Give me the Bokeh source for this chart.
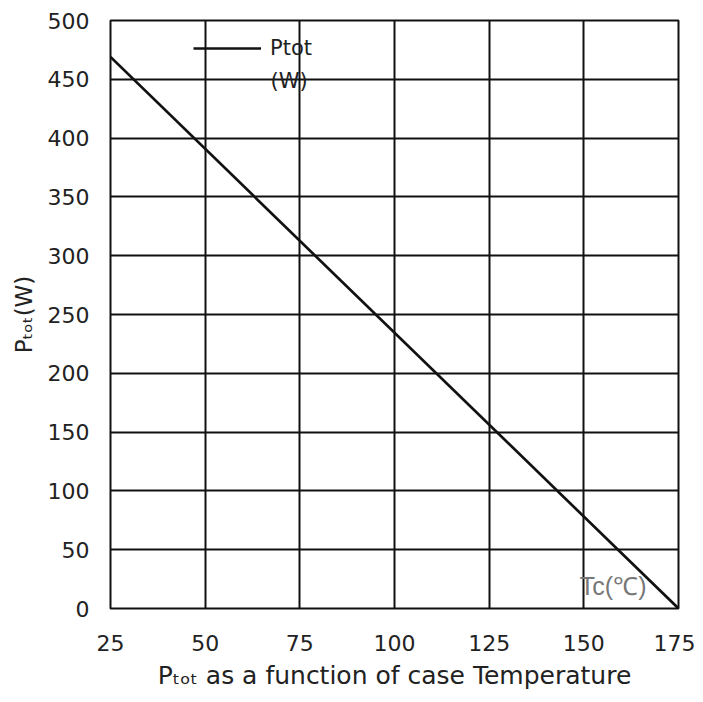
from bokeh.plotting import figure
from bokeh.models import FixedTicker, Label, Legend, LegendItem, Range1d
from bokeh.embed import file_html
from bokeh.resources import INLINE

# data
case_temp = [25, 175]          # Tc (°C)
p_tot = [469, 0]               # Ptot (W)
x_ticks = [25, 50, 75, 100, 125, 150, 175]
y_ticks = [0, 50, 100, 150, 200, 250, 300, 350, 400, 450, 500]

TICK_FONT = "DejaVu Sans"
TEXT_COLOR = "#222222"

p = figure(width=695, height=694, frame_width=568, frame_height=588,
           min_border_left=110, min_border_top=20, min_border_right=17, min_border_bottom=86,
           x_range=Range1d(25, 175), y_range=Range1d(0, 500),
           output_backend="svg", toolbar_location=None)
p.background_fill_color = "white"
p.border_fill_color = "white"
p.outline_line_color = "#111111"
p.outline_line_width = 2

for ax, ticks in ((p.xaxis, x_ticks), (p.yaxis, y_ticks)):
    ax.ticker = FixedTicker(ticks=ticks)
    ax.axis_line_color = None
    ax.major_tick_line_color = None
    ax.minor_tick_line_color = None
    ax.major_tick_out = 0
    ax.major_tick_in = 0
    ax.major_label_text_font = TICK_FONT
    ax.major_label_text_font_size = "22px"
    ax.major_label_text_color = TEXT_COLOR
    ax.axis_label_text_font = TICK_FONT
    ax.axis_label_text_font_style = "normal"
    ax.axis_label_text_color = TEXT_COLOR
p.xaxis.major_label_standoff = 26
p.yaxis.major_label_standoff = 21

p.xaxis.axis_label = "Pₜₒₜ as a function of case Temperature"
p.xaxis.axis_label_text_font_size = "25px"
p.xaxis.axis_label_standoff = 7
p.yaxis.axis_label = "Pₜₒₜ(W)"
p.yaxis.axis_label_text_font_size = "23px"
p.yaxis.axis_label_standoff = 8

p.xgrid.ticker = FixedTicker(ticks=x_ticks)
p.ygrid.ticker = FixedTicker(ticks=y_ticks)
for g in (p.xgrid, p.ygrid):
    g.grid_line_color = "#111111"
    g.grid_line_width = 2
    g.grid_line_alpha = 1.0

r = p.line(case_temp, p_tot, line_color="#111111", line_width=2.7)

legend = Legend(items=[LegendItem(label="Ptot", renderers=[r])],
                location=(83, 548), padding=0, margin=0, spacing=0,
                glyph_width=68, glyph_height=22, label_height=22, label_standoff=9,
                border_line_color=None, background_fill_alpha=0,
                label_text_font=TICK_FONT, label_text_font_size="21px",
                label_text_color=TEXT_COLOR)
p.add_layout(legend)
p.add_layout(Label(x=25, y=0, x_offset=160, y_offset=528, text="(W)",
                   text_font=TICK_FONT, text_font_size="21px", text_color=TEXT_COLOR,
                   text_baseline="middle"))

# Tc label
p.add_layout(Label(x=175, y=0, x_offset=-32, y_offset=23, text="Tc(℃)",
                   text_font="Liberation Sans", text_font_size="25px", text_color="#777777",
                   text_align="right", text_baseline="middle"))

open("out.html", "w").write(file_html(p, INLINE))
